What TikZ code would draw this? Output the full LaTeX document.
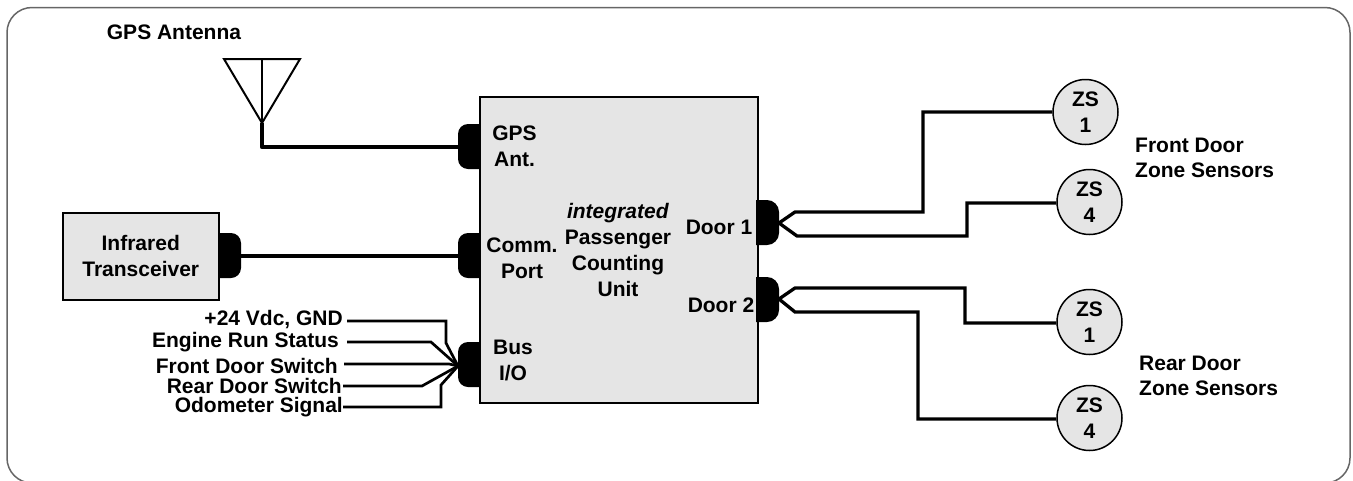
\documentclass[tikz,border=0pt]{standalone}
\usepackage{fontspec}
\setmainfont{Liberation Sans}
\begin{document}
\begin{tikzpicture}[x=1pt,y=-1pt,
  lbl/.style={font=\fontsize{21}{26}\selectfont\bfseries,align=center,inner sep=0pt},
  lblb/.style={font=\fontsize{21}{22}\selectfont\bfseries,inner sep=0pt,anchor=east},
  lbll/.style={font=\fontsize{21}{25}\selectfont\bfseries,align=left,inner sep=0pt,anchor=west},
  unit/.style={draw=black,line width=1.5pt,fill=black!10},
  wire/.style={draw=black,line width=3.3pt,line join=miter},
  thin wire/.style={draw=black,line width=2.7pt,line join=miter},
  sensor/.style={circle,draw=black,line width=1.5pt,fill=black!10,minimum size=65pt,inner sep=0pt,lbl},
]
\useasboundingbox (0,0) rectangle (1353,480);
\begin{scope}
\clip (0,0) rectangle (1353,480);
\draw[line width=1.5pt,draw=black!60,rounded corners=25pt] (7,7.5) rectangle (1350,483);
\end{scope}

% tabs on the unit's left side
\fill (485,124) {[rounded corners=10pt] -- (458,124) -- (458,169)} -- (485,169) -- cycle;
\fill (485,233) {[rounded corners=10pt] -- (458,233) -- (458,278)} -- (485,278) -- cycle;
\fill (485,342) {[rounded corners=10pt] -- (458,342) -- (458,387)} -- (485,387) -- cycle;
\fill (200,233) {[rounded corners=10pt] -- (241,233) -- (241,278)} -- (200,278) -- cycle;

% boxes
\draw[unit] (480,97) rectangle (758,403);
\node[unit,minimum width=156pt,minimum height=87pt,inner sep=0pt,anchor=north west,lbl] (ir) at (62,212) {Infrared\\Transceiver};
\fill (756,200) {[rounded corners=12pt] -- (779,200) -- (779,245)} -- (756,245) -- cycle;
\fill (756,277) {[rounded corners=12pt] -- (779,277) -- (779,322)} -- (756,322) -- cycle;

% unit labels
\node[lbl] (gps) at (514.5,146.5) {GPS\\Ant.};
\node[lbl] (comm) at (522,258) {Comm.\\Port};
\node[lbl] (bus) at (513,360.5) {Bus\\I/O};
\node[lbl] (main) at (618,250) {\textit{integrated}\\Passenger\\Counting\\Unit};
\node[lbl] (d1) at (719,227) {Door 1};
\node[lbl] (d2) at (721,305) {Door 2};

% antenna
\node[lbl] (gpsa) at (174,32) {GPS Antenna};
\coordinate (ab) at (262,123);
\coordinate (al) at (224,59);
\coordinate (ar) at (300,59);
\coordinate (at) at (262,59);
\draw[line width=2pt,line join=miter] (ab) -- (al) -- (ar) -- cycle;
\draw[line width=2pt] (at) -- (ab);
\coordinate (gt) at (458,147);
\draw[line width=4.3pt,line join=round] (ab) -- (262,147) -- (gt);

% IR to comm
\coordinate (irt) at (241,256);
\coordinate (ct) at (458,256);
\draw[line width=4.3pt] (irt) -- (ct);

% Bus IO
\coordinate (bt) at (458,366);
\node[lblb] (s1) at (343,320) {+24 Vdc, GND};
\node[lblb] (s2) at (339,342) {Engine Run Status};
\node[lblb] (s3) at (338,366) {Front Door Switch};
\node[lblb] (s4) at (342,386) {Rear Door Switch};
\node[lblb] (s5) at (343,407) {Odometer Signal};
\draw[thin wire] (347,321) -- (446,321) -- (446,343) -- (bt);
\draw[thin wire] (347,342) -- (431,342) -- (bt);
\draw[thin wire] (344,364) -- (449,364) -- (bt);
\draw[thin wire] (343,386) -- (422,386) -- (bt);
\draw[thin wire] (343,407) -- (441,407) -- (441,385) -- (bt);

% sensors
\node[sensor] (z1) at (1085.5,112) {ZS\\1};
\node[sensor] (z2) at (1089.5,202) {ZS\\4};
\node[sensor] (z3) at (1089.5,322) {ZS\\1};
\node[sensor] (z4) at (1089.5,418) {ZS\\4};
\node[lbll] (fd) at (1135,157.5) {Front Door\\Zone Sensors};
\node[lbll] (rd) at (1139,375.5) {Rear Door\\Zone Sensors};

% door wires
\coordinate (d1t) at (779,223);
\coordinate (d2t) at (779,299);
\draw[wire] (d1t) -- (795,212) -- (923,212) -- (923,112) -- (z1.west |- 923,112);
\draw[wire] (d1t) -- (797,236) -- (967,236) -- (967,203) -- (z2.west |- 967,203);
\draw[wire] (d2t) -- (795,288) -- (965,288) -- (965,323) -- (z3.west |- 965,323);
\draw[wire] (d2t) -- (795,312) -- (918,312) -- (918,419) -- (z4.west |- 918,419);
\end{tikzpicture}
\end{document}
